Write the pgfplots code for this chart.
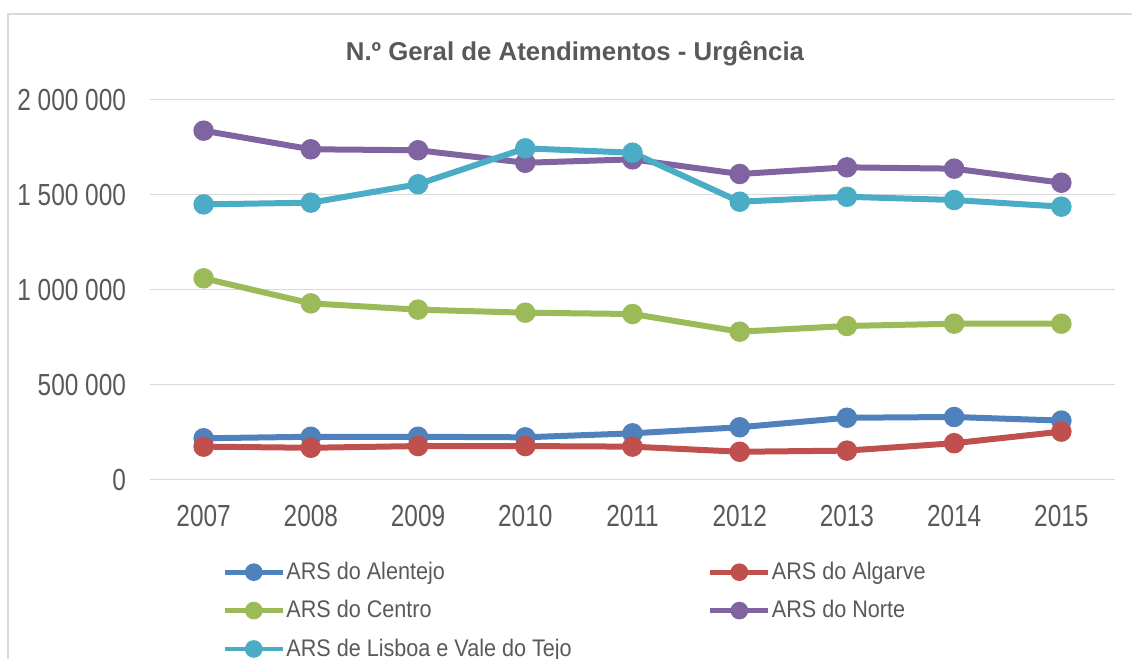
\documentclass[border=0pt]{standalone}
\usepackage{fontspec}
\setmainfont{Liberation Sans}
\newfontfamily\tickfont{Liberation Sans}[FakeStretch=0.8]
\newfontfamily\legfont{Liberation Sans}[FakeStretch=0.9]
\usepackage{pgfplots}
\usepackage{pgfplotstable}
\pgfplotsset{compat=1.18}
\definecolor{txt}{HTML}{595959}
\definecolor{gridc}{HTML}{D9D9D9}
\definecolor{cA}{HTML}{4F81BD}
\definecolor{cB}{HTML}{C0504D}
\definecolor{cC}{HTML}{9BBB59}
\definecolor{cD}{HTML}{8064A2}
\definecolor{cE}{HTML}{4BACC6}
\pgfplotstableread{
x alentejo algarve centro norte lisboa
0 218000 174000 1060000 1837000 1449000
1 226000 168000 928000 1739000 1458000
2 226000 177000 895000 1734000 1555000
3 223000 177000 879000 1668000 1744000
4 244000 174000 872000 1686000 1721000
5 276000 147000 779000 1609000 1463000
6 326000 153000 809000 1644000 1489000
7 330000 192000 821000 1637000 1472000
8 311000 253000 821000 1563000 1437000
}\data
\begin{document}
\begin{tikzpicture}
\useasboundingbox (0,0) rectangle (566pt,329.5pt);
\draw[gridc, line width=1pt] (4pt,-2pt) -- (4pt,322.5pt) -- (570pt,322.5pt);
\node[anchor=base, text=txt, font=\fontsize{12.9}{15}\selectfont\bfseries] at (287.5pt,299pt) {N.º Geral de Atendimentos - Urgência};
\begin{axis}[
  at={(75pt,89.65pt)}, anchor=south west,
  scale only axis, width=482.5pt, height=190pt,
  xmin=-0.5, xmax=8.5, ymin=0, ymax=2000000,
  scaled y ticks=false,
  axis line style={draw=none},
  major tick length=0pt,
  xtick={0,...,8},
  xticklabels={2007,2008,2009,2010,2011,2012,2013,2014,2015},
  ytick={0,500000,1000000,1500000,2000000},
  yticklabels={0,500 000,1 000 000,1 500 000,2 000 000},
  ymajorgrids,
  grid style={gridc, line width=0.75pt},
  tick label style={text=txt, font=\tickfont\fontsize{15.25}{18}\selectfont},
  xticklabel style={yshift=-9pt},
  yticklabel style={xshift=-8.5pt},
  every axis plot/.append style={line width=3pt, mark=*, mark size=3.6pt},
  legend columns=2,
  legend style={draw=none, fill=none, inner sep=0pt,
    at={(axis description cs:0.0746,-0.205)}, anchor=north west,
    font=\legfont\fontsize{12}{14}\selectfont, text=txt,
    cells={anchor=west},
    nodes={inner xsep=0.6pt},
    row sep=5pt,
    /tikz/every even column/.append style={column sep=67.5pt}},
  legend image code/.code={\draw[mark repeat=2,mark phase=2,#1,line width=2.4pt,mark size=3.2pt] plot coordinates {(0pt,0pt)(14.5pt,0pt)(29pt,0pt)};},
]
\addplot[cA] table[x=x,y=alentejo]{\data};
\addlegendentry{ARS do Alentejo}
\addplot[cB] table[x=x,y=algarve]{\data};
\addlegendentry{ARS do Algarve}
\addplot[cC] table[x=x,y=centro]{\data};
\addlegendentry{ARS do Centro}
\addplot[cD] table[x=x,y=norte]{\data};
\addlegendentry{ARS do Norte}
\addplot[cE] table[x=x,y=lisboa]{\data};
\addlegendentry{ARS de Lisboa e Vale do Tejo}
\end{axis}
\end{tikzpicture}
\end{document}
